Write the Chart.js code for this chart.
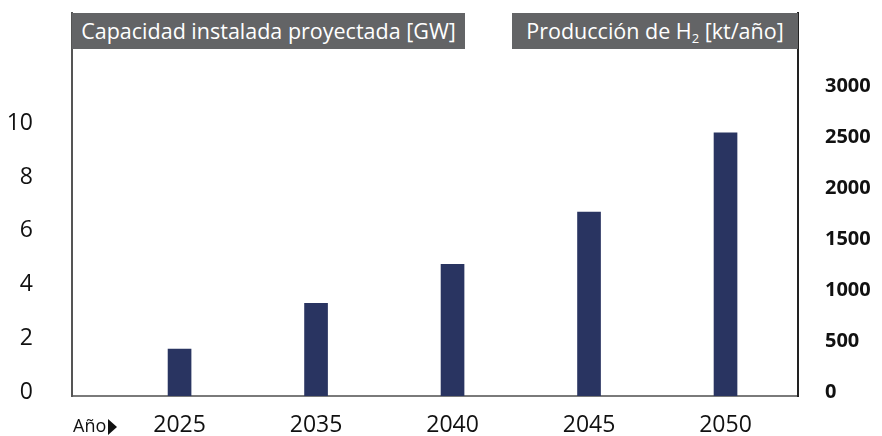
<!DOCTYPE html>
<html>
<head>
<meta charset="utf-8">
<script src="https://cdn.jsdelivr.net/npm/chart.js@4/dist/chart.umd.min.js"></script>
<style>
  html, body { margin: 0; padding: 0; background: #fff; }
  #wrap { position: relative; width: 882px; height: 436px; font-family: "Open Sans", sans-serif; }
  .head { position: absolute; top: 13px; height: 36px; line-height: 35px; background: #636466; color: #fff;
          font-size: 21.5px; text-align: center; white-space: nowrap; z-index: 2; }
  .head sub { font-size: 13px; vertical-align: -4px; line-height: 0; }
  #anio { position: absolute; left: 73px; top: 413px; font-size: 18px; color: #111; line-height: 24px; }
  #anio span { display: inline-block; width: 0; height: 0; border-top: 8px solid transparent;
               border-bottom: 8px solid transparent; border-left: 9px solid #111; margin-left: 2px; vertical-align: -3px; }
</style>
</head>
<body>
<div id="wrap">
  <canvas id="grafico" width="882" height="436"></canvas>
  <div class="head" style="left:72px;width:393px;">Capacidad instalada proyectada [GW]</div>
  <div class="head" style="left:512px;width:286px;">Producción de H<sub>2</sub> [kt/año]</div>
  <div id="anio">Año<span></span></div>
</div>
<script>
// Datos
const anos = ["2025", "2035", "2040", "2045", "2050"];
const capacidadGW = [1.75, 3.45, 4.9, 6.85, 9.8];
const ticksGW = [0, 2, 4, 6, 8, 10];
const ticksKt = [0, 500, 1000, 1500, 2000, 2500, 3000];

const azul = "#293461";
const fonte = "'Open Sans', sans-serif";

// tira o padding automatico que os labels empurram para o chartArea
function semPadding(axis) {
    axis.paddingTop = 0;
    axis.paddingBottom = 0;
    axis.paddingLeft = 0;
    axis.paddingRight = 0;
}

new Chart(document.getElementById("grafico"), {
    type: "bar",
    data: {
        datasets: [{
            label: "Capacidad instalada proyectada [GW]",
            data: capacidadGW.map((v, i) => ({ x: i, y: v })),
            backgroundColor: azul,
            barThickness: 23,
            yAxisID: "y"
        }]
    },
    options: {
        responsive: false,
        animation: false,
        layout: { padding: { top: 13, left: 0, right: 0, bottom: 0 } },
        plugins: { legend: { display: false }, tooltip: { enabled: false } },
        scales: {
            x: {
                type: "linear",
                offset: false,
                min: -0.788,
                max: 4.531,
                afterBuildTicks: axis => { axis.ticks = anos.map((a, i) => ({ value: i })); },
                afterFit: axis => { axis.height = 40; semPadding(axis); },
                grid: { display: false, drawTicks: false },
                border: { display: true, color: "#7a7a7a", width: 2 },
                ticks: {
                    callback: v => anos[v],
                    font: { family: fonte, size: 23 },
                    color: "#111",
                    padding: 16,
                    maxRotation: 0
                }
            },
            y: {
                position: "left",
                min: 0,
                max: 14.26,
                afterBuildTicks: axis => { axis.ticks = ticksGW.map(v => ({ value: v })); },
                afterFit: axis => { axis.width = 72; semPadding(axis); },
                grid: { display: false, drawTicks: false },
                border: { display: true, color: "#555", width: 2 },
                ticks: {
                    callback: v => String(v),
                    font: { family: fonte, size: 23 },
                    color: "#111",
                    padding: 39,
                    labelOffset: -4
                }
            },
            y2: {
                position: "right",
                min: 0,
                max: 3755,
                afterBuildTicks: axis => { axis.ticks = ticksKt.map(v => ({ value: v })); },
                afterFit: axis => { axis.width = 84; semPadding(axis); },
                grid: { display: false, drawTicks: false },
                border: { display: true, color: "#222", width: 2 },
                ticks: {
                    callback: v => String(v),
                    font: { family: fonte, size: 20, weight: "bold" },
                    color: "#111",
                    padding: 27,
                    labelOffset: -4
                }
            }
        }
    }
});
</script>
</body>
</html>
